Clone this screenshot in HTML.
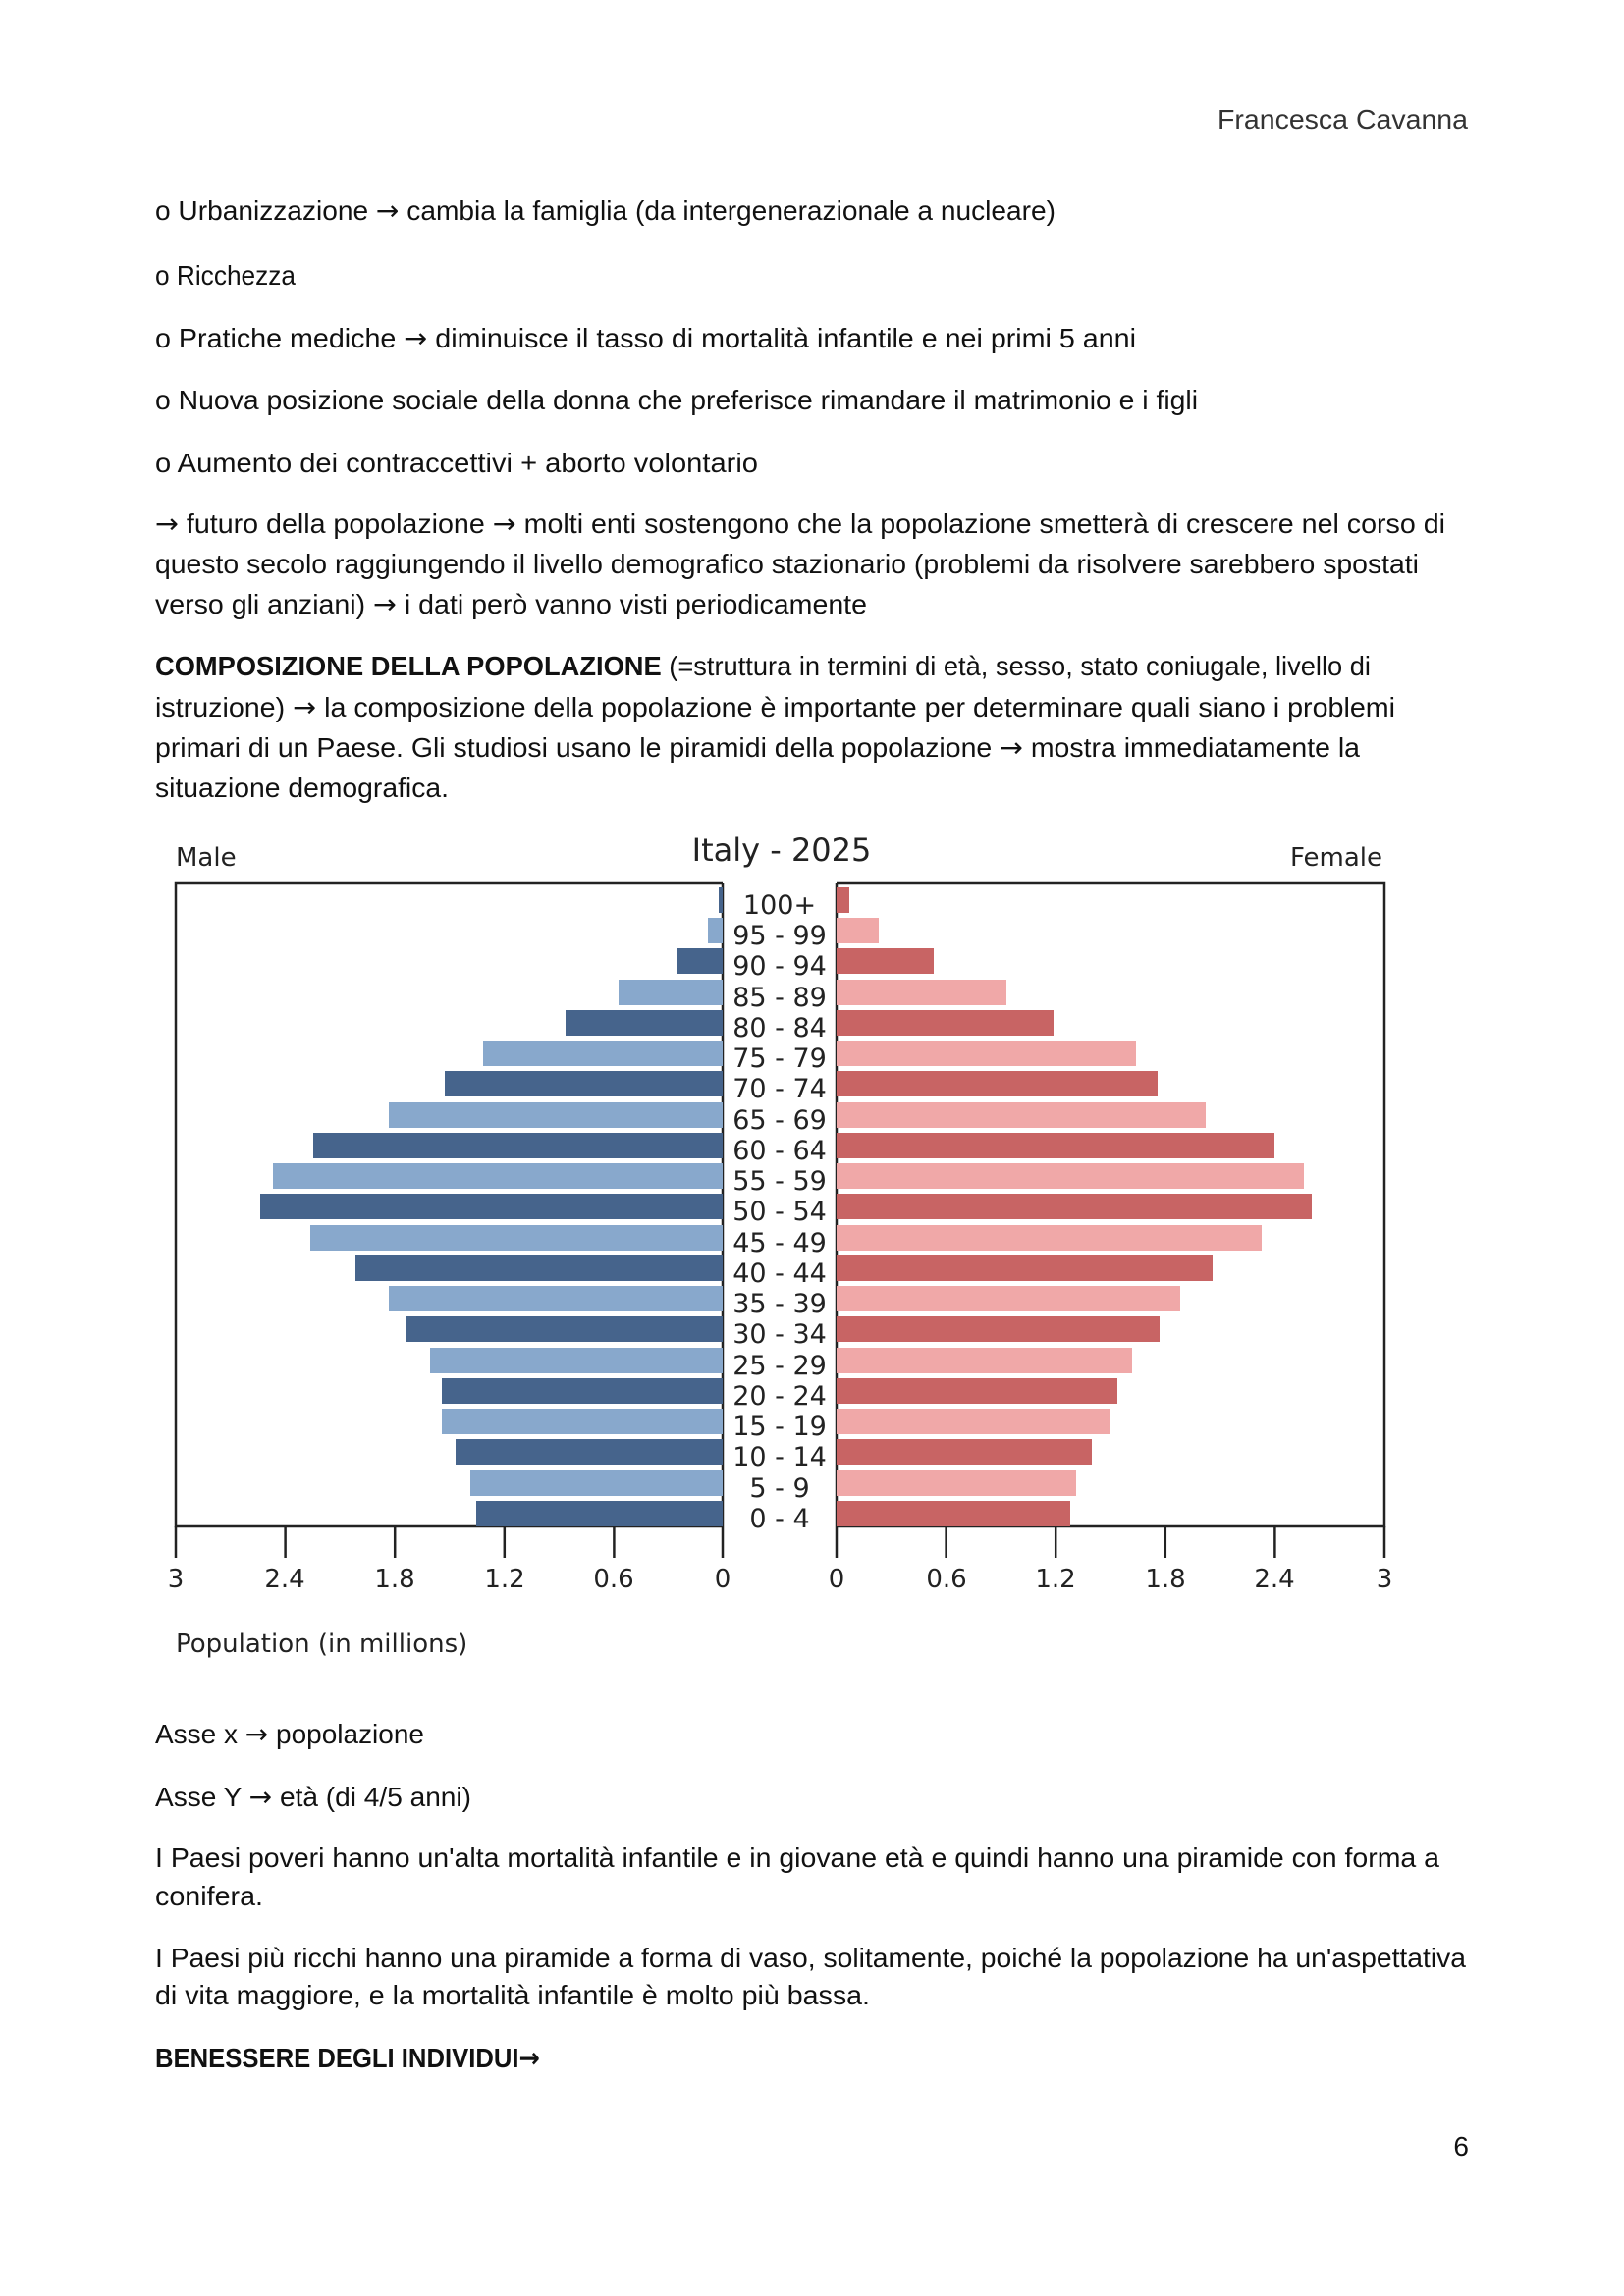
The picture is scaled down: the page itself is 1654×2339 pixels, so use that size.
<!DOCTYPE html>
<html><head><meta charset="utf-8"><style>
html,body{margin:0;padding:0;background:#fff}
svg{display:block}
.t{font-family:"Liberation Sans",sans-serif;font-size:28px;fill:#111}
.t .a{font-family:"DejaVu Sans",sans-serif}
.c{font-family:"DejaVu Sans","Liberation Sans",sans-serif;fill:#222}
</style></head><body>
<svg width="1654" height="2339" viewBox="0 0 1654 2339" xmlns="http://www.w3.org/2000/svg">
<rect width="1654" height="2339" fill="#fff"/>
<g class="t">
<text x="1240" y="131" textLength="255" lengthAdjust="spacingAndGlyphs" fill="#333">Francesca Cavanna</text>
<text x="158" y="224" textLength="917" lengthAdjust="spacingAndGlyphs">o Urbanizzazione <tspan class="a">→</tspan> cambia la famiglia (da intergenerazionale a nucleare)</text>
<text x="158" y="290" textLength="143" lengthAdjust="spacingAndGlyphs">o Ricchezza</text>
<text x="158" y="354" textLength="999" lengthAdjust="spacingAndGlyphs">o Pratiche mediche <tspan class="a">→</tspan> diminuisce il tasso di mortalità infantile e nei primi 5 anni</text>
<text x="158" y="417" textLength="1062" lengthAdjust="spacingAndGlyphs">o Nuova posizione sociale della donna che preferisce rimandare il matrimonio e i figli</text>
<text x="158" y="481" textLength="614" lengthAdjust="spacingAndGlyphs">o Aumento dei contraccettivi + aborto volontario</text>
<text x="158" y="543" textLength="1314" lengthAdjust="spacingAndGlyphs"><tspan class="a">→</tspan> futuro della popolazione <tspan class="a">→</tspan> molti enti sostengono che la popolazione smetterà di crescere nel corso di</text>
<text x="158" y="584" textLength="1287" lengthAdjust="spacingAndGlyphs">questo secolo raggiungendo il livello demografico stazionario (problemi da risolvere sarebbero spostati</text>
<text x="158" y="625" textLength="725" lengthAdjust="spacingAndGlyphs">verso gli anziani) <tspan class="a">→</tspan> i dati però vanno visti periodicamente</text>
<text x="158" y="688" textLength="1238" lengthAdjust="spacingAndGlyphs"><tspan font-weight="bold">COMPOSIZIONE DELLA POPOLAZIONE</tspan> (=struttura in termini di età, sesso, stato coniugale, livello di</text>
<text x="158" y="730" textLength="1263" lengthAdjust="spacingAndGlyphs">istruzione) <tspan class="a">→</tspan> la composizione della popolazione è importante per determinare quali siano i problemi</text>
<text x="158" y="771" textLength="1227" lengthAdjust="spacingAndGlyphs">primari di un Paese. Gli studiosi usano le piramidi della popolazione <tspan class="a">→</tspan> mostra immediatamente la</text>
<text x="158" y="812" textLength="299" lengthAdjust="spacingAndGlyphs">situazione demografica.</text>
<text x="158" y="1776" textLength="274" lengthAdjust="spacingAndGlyphs">Asse x <tspan class="a">→</tspan> popolazione</text>
<text x="158" y="1840" textLength="322" lengthAdjust="spacingAndGlyphs">Asse Y <tspan class="a">→</tspan> età (di 4/5 anni)</text>
<text x="158" y="1902" textLength="1308" lengthAdjust="spacingAndGlyphs">I Paesi poveri hanno un'alta mortalità infantile e in giovane età e quindi hanno una piramide con forma a</text>
<text x="158" y="1941" textLength="110" lengthAdjust="spacingAndGlyphs">conifera.</text>
<text x="158" y="2004" textLength="1335" lengthAdjust="spacingAndGlyphs">I Paesi più ricchi hanno una piramide a forma di vaso, solitamente, poiché la popolazione ha un'aspettativa</text>
<text x="158" y="2042" textLength="728" lengthAdjust="spacingAndGlyphs">di vita maggiore, e la mortalità infantile è molto più bassa.</text>
<text x="158" y="2106" textLength="392" lengthAdjust="spacingAndGlyphs" font-weight="bold">BENESSERE DEGLI INDIVIDUI<tspan class="a">→</tspan></text>
<text x="1496" y="2196" text-anchor="end">6</text>
</g>
<g class="c">
<text x="179" y="882" font-size="26">Male</text>
<text x="1408" y="882" font-size="26" text-anchor="end">Female</text>
<text x="796" y="877" font-size="32" text-anchor="middle">Italy - 2025</text>
<text x="179" y="1683" font-size="26">Population (in millions)</text>
</g>
<g stroke="#222" stroke-width="2.5" fill="none">
<polyline points="736,900 179,900 179,1555 736,1555"/>
<line x1="736" y1="900" x2="736" y2="1587"/>
<polyline points="852,900 1410,900 1410,1555 852,1555"/>
<line x1="852" y1="900" x2="852" y2="1587"/>
<line x1="179" y1="1555" x2="179" y2="1587"/>
<line x1="290.6" y1="1555" x2="290.6" y2="1587"/>
<line x1="402.2" y1="1555" x2="402.2" y2="1587"/>
<line x1="513.8" y1="1555" x2="513.8" y2="1587"/>
<line x1="625.4" y1="1555" x2="625.4" y2="1587"/>
<line x1="963.6" y1="1555" x2="963.6" y2="1587"/>
<line x1="1075.2" y1="1555" x2="1075.2" y2="1587"/>
<line x1="1186.8" y1="1555" x2="1186.8" y2="1587"/>
<line x1="1298.4" y1="1555" x2="1298.4" y2="1587"/>
<line x1="1410" y1="1555" x2="1410" y2="1587"/>
</g>
<g class="c" font-size="26" text-anchor="middle">
<text x="179" y="1617">3</text><text x="290" y="1617">2.4</text><text x="402" y="1617">1.8</text><text x="514" y="1617">1.2</text><text x="625" y="1617">0.6</text><text x="736" y="1617">0</text>
<text x="852" y="1617">0</text><text x="964" y="1617">0.6</text><text x="1075" y="1617">1.2</text><text x="1187" y="1617">1.8</text><text x="1298" y="1617">2.4</text><text x="1410" y="1617">3</text>
</g>
<g class="c" font-size="27" text-anchor="middle" transform="translate(0,-5)">
<text x="794" y="936">100+</text>
<text x="794" y="967">95 - 99</text>
<text x="794" y="998">90 - 94</text>
<text x="794" y="1030">85 - 89</text>
<text x="794" y="1061">80 - 84</text>
<text x="794" y="1092">75 - 79</text>
<text x="794" y="1123">70 - 74</text>
<text x="794" y="1155">65 - 69</text>
<text x="794" y="1186">60 - 64</text>
<text x="794" y="1217">55 - 59</text>
<text x="794" y="1248">50 - 54</text>
<text x="794" y="1280">45 - 49</text>
<text x="794" y="1311">40 - 44</text>
<text x="794" y="1342">35 - 39</text>
<text x="794" y="1373">30 - 34</text>
<text x="794" y="1405">25 - 29</text>
<text x="794" y="1436">20 - 24</text>
<text x="794" y="1467">15 - 19</text>
<text x="794" y="1498">10 - 14</text>
<text x="794" y="1530">5 - 9</text>
<text x="794" y="1561">0 - 4</text>
</g>
<g>
<rect x="732" y="904" width="4" height="26" fill="#46648c"/>
<rect x="721" y="935" width="15" height="26" fill="#88a8cc"/>
<rect x="689" y="966" width="47" height="26" fill="#46648c"/>
<rect x="630" y="998" width="106" height="26" fill="#88a8cc"/>
<rect x="576" y="1029" width="160" height="26" fill="#46648c"/>
<rect x="492" y="1060" width="244" height="26" fill="#88a8cc"/>
<rect x="453" y="1091" width="283" height="26" fill="#46648c"/>
<rect x="396" y="1123" width="340" height="26" fill="#88a8cc"/>
<rect x="319" y="1154" width="417" height="26" fill="#46648c"/>
<rect x="278" y="1185" width="458" height="26" fill="#88a8cc"/>
<rect x="265" y="1216" width="471" height="26" fill="#46648c"/>
<rect x="316" y="1248" width="420" height="26" fill="#88a8cc"/>
<rect x="362" y="1279" width="374" height="26" fill="#46648c"/>
<rect x="396" y="1310" width="340" height="26" fill="#88a8cc"/>
<rect x="414" y="1341" width="322" height="26" fill="#46648c"/>
<rect x="438" y="1373" width="298" height="26" fill="#88a8cc"/>
<rect x="450" y="1404" width="286" height="26" fill="#46648c"/>
<rect x="450" y="1435" width="286" height="26" fill="#88a8cc"/>
<rect x="464" y="1466" width="272" height="26" fill="#46648c"/>
<rect x="479" y="1498" width="257" height="26" fill="#88a8cc"/>
<rect x="485" y="1529" width="251" height="26" fill="#46648c"/>

<rect x="852" y="904" width="13" height="26" fill="#c86464"/>
<rect x="852" y="935" width="43" height="26" fill="#f0a8a8"/>
<rect x="852" y="966" width="99" height="26" fill="#c86464"/>
<rect x="852" y="998" width="173" height="26" fill="#f0a8a8"/>
<rect x="852" y="1029" width="221" height="26" fill="#c86464"/>
<rect x="852" y="1060" width="305" height="26" fill="#f0a8a8"/>
<rect x="852" y="1091" width="327" height="26" fill="#c86464"/>
<rect x="852" y="1123" width="376" height="26" fill="#f0a8a8"/>
<rect x="852" y="1154" width="446" height="26" fill="#c86464"/>
<rect x="852" y="1185" width="476" height="26" fill="#f0a8a8"/>
<rect x="852" y="1216" width="484" height="26" fill="#c86464"/>
<rect x="852" y="1248" width="433" height="26" fill="#f0a8a8"/>
<rect x="852" y="1279" width="383" height="26" fill="#c86464"/>
<rect x="852" y="1310" width="350" height="26" fill="#f0a8a8"/>
<rect x="852" y="1341" width="329" height="26" fill="#c86464"/>
<rect x="852" y="1373" width="301" height="26" fill="#f0a8a8"/>
<rect x="852" y="1404" width="286" height="26" fill="#c86464"/>
<rect x="852" y="1435" width="279" height="26" fill="#f0a8a8"/>
<rect x="852" y="1466" width="260" height="26" fill="#c86464"/>
<rect x="852" y="1498" width="244" height="26" fill="#f0a8a8"/>
<rect x="852" y="1529" width="238" height="26" fill="#c86464"/>
</g>
</svg>
</body></html>
